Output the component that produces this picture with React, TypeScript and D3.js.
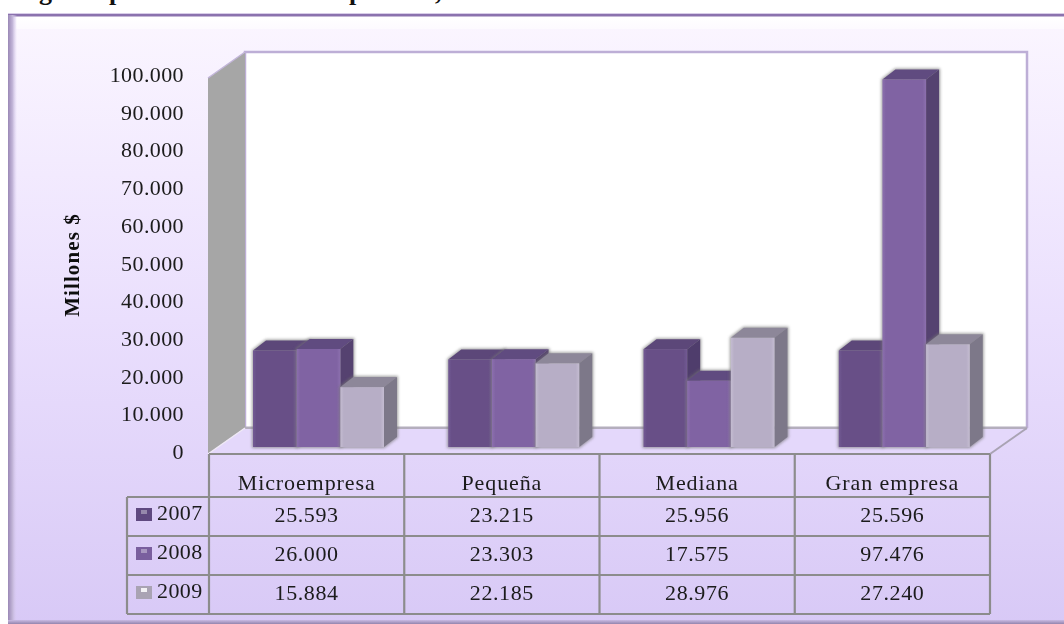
import React from "react";
import * as d3 from "d3";

const categories = ["Microempresa", "Pequeña", "Mediana", "Gran empresa"];
const seriesNames = ["2007", "2008", "2009"];
const values2007 = [25593, 23215, 25956, 25596];
const values2008 = [26000, 23303, 17575, 97476];
const values2009 = [15884, 22185, 28976, 27240];
const yAxisTitle = "Millones $";
const titleFragments = [
  { text: "g", x: 39 },
  { text: "p", x: 109 },
  { text: "p", x: 349 },
  { text: ",", x: 435 },
];

const allValues = [values2007, values2008, values2009];
const faces = [
  { dark: "#5f4a80", front: "#674f87", edge: "#735a94", side: "#503e6c", top: "#5b4679", swatch: "#5f4a80" },
  { dark: "#745a98", front: "#8063a3", edge: "#8c70ae", side: "#55426f", top: "#604b80", swatch: "#7a5f9e" },
  { dark: "#aea5bd", front: "#b7aec6", edge: "#c4bcd1", side: "#7d7889", top: "#8d8799", swatch: "#a9a3b3" },
];

const W = 1064;
const H = 624;
const tableLeft = 127;
const colLeft = 209;
const colRight = 990;
const rowLines = [497, 536, 575, 614];
const headerTop = 454;
const wall = { l: 245, r: 1027, t: 52, b: 428 };
const wallFront = { x: 208, dy: 26 };
const depth = { dx: 13, dy: -10 };
const baseY = 447;
const fontFamily = "'Liberation Serif', 'Times New Roman', serif";

const locale = d3.formatLocale({ decimal: ",", thousands: ".", grouping: [3], currency: ["", ""] });
const fmt = locale.format(",d");

export default function App() {
  const xCat = d3.scaleBand<string>().domain(categories).range([colLeft, colRight]).padding(0);
  const yAxis = d3.scaleLinear().domain([0, 100000]).range([452, 75]);
  const yBar = d3.scaleLinear().domain([0, 100000]).range([baseY, baseY - 377]);
  const xSeries = d3.scaleBand<string>().domain(seriesNames).range([44, 175]).padding(0);
  const bw = xSeries.bandwidth();
  const ticks = yAxis.ticks(10);
  const colEdges = [...categories.map((c) => xCat(c) as number), colRight];

  return (
    <svg
      width={W}
      height={H}
      viewBox={`0 0 ${W} ${H}`}
      style={{ position: "absolute", left: 0, top: 0, display: "block" }}
      fontFamily={fontFamily}
    >
      <defs>
        <linearGradient id="bg" x1="0" y1="0" x2="0" y2="1">
          <stop offset="0" stopColor="#fbf6ff" />
          <stop offset="0.5" stopColor="#eadffd" />
          <stop offset="1" stopColor="#d8c9f6" />
        </linearGradient>
        <linearGradient id="leftBevel" x1="0" y1="0" x2="1" y2="0">
          <stop offset="0" stopColor="#9a88b6" />
          <stop offset="0.5" stopColor="#c2b5d8" />
          <stop offset="1" stopColor="#d9ccf0" stopOpacity="0" />
        </linearGradient>
        <linearGradient id="topBevel" x1="0" y1="0" x2="0" y2="1">
          <stop offset="0" stopColor="#ffffff" />
          <stop offset="1" stopColor="#fdfaff" />
        </linearGradient>
        <linearGradient id="bottomBevel" x1="0" y1="0" x2="0" y2="1">
          <stop offset="0" stopColor="#c9bae3" />
          <stop offset="1" stopColor="#9384ad" />
        </linearGradient>
        <filter id="soft" x="-2%" y="-2%" width="104%" height="104%">
          <feGaussianBlur stdDeviation="0.5" />
        </filter>
        <filter id="halo" x="-30%" y="-30%" width="160%" height="160%">
          <feGaussianBlur stdDeviation="1.4" />
        </filter>
        {faces.map((f, i) => (
          <linearGradient key={i} id={`front${i}`} x1="0" y1="0" x2="1" y2="0">
            <stop offset="0" stopColor={f.edge} />
            <stop offset="0.08" stopColor={f.front} />
            <stop offset="0.92" stopColor={f.front} />
            <stop offset="1" stopColor={f.edge} />
          </linearGradient>
        ))}
      </defs>

      <rect width={W} height={H} fill="#ffffff" />

      {titleFragments.map((t) => (
        <text key={t.x} x={t.x} y={0} fontSize={26} fontWeight="bold" fill="#111">
          {t.text}
        </text>
      ))}

      <rect x={8} y={15} width={W - 8} height={H - 15} fill="url(#bg)" />
      <rect x={16} y={16} width={W - 16} height={13} fill="url(#topBevel)" />
      <rect x={8} y={14} width={W - 8} height={2.5} fill="#8b72ae" />
      <rect x={8} y={13} width={W - 8} height={1} fill="#d8cde8" />
      <rect x={8} y={15} width={9} height={H - 15} fill="url(#leftBevel)" />
      <rect x={8} y={620} width={W - 8} height={4} fill="url(#bottomBevel)" />

      <g filter="url(#soft)">
        <rect x={wall.l} y={wall.t} width={wall.r - wall.l} height={wall.b - wall.t} fill="#ffffff" />
        <polyline
          points={`${wall.l},${wall.b} ${wall.l},${wall.t} ${wall.r},${wall.t} ${wall.r},${wall.b}`}
          fill="none"
          stroke="#bdaed6"
          strokeWidth={2.5}
        />
        <line x1={wall.l} x2={wall.r} y1={wall.b} y2={wall.b} stroke="#b4aebd" strokeWidth={3} />

        <polygon
          points={`${wallFront.x},${wall.t + wallFront.dy} ${wall.l},${wall.t} ${wall.l},${wall.b} ${wallFront.x},${wall.b + wallFront.dy}`}
          fill="#a6a6a6"
        />
        <line x1={wallFront.x} y1={wall.t + wallFront.dy} x2={wall.l} y2={wall.t} stroke="#c3b6da" strokeWidth={1.5} />

        <polygon
          points={`${wallFront.x},${wall.b + wallFront.dy} ${wall.l},${wall.b + 1} ${wall.r},${wall.b + 1} ${colRight},${wall.b + wallFront.dy}`}
          fill="#e4d8fb"
        />
        <line x1={wallFront.x} y1={wall.b + wallFront.dy} x2={wall.l} y2={wall.b} stroke="#efe9f6" strokeWidth={1.5} />
        <line x1={colRight} y1={wall.b + wallFront.dy} x2={wall.r} y2={wall.b} stroke="#a9a3b3" strokeWidth={2} />

        {categories.map((cat, c) => (
          <g key={cat}>
            {seriesNames.map((s, i) => {
              const x0 = (xCat(cat) as number) + (xSeries(s) as number);
              const x1 = x0 + bw;
              const yT = yBar(allValues[i][c]);
              const f = faces[i];
              const top = `${x0},${yT} ${x0 + depth.dx},${yT + depth.dy} ${x1 + depth.dx},${yT + depth.dy} ${x1},${yT}`;
              const side = `${x1},${yT} ${x1 + depth.dx},${yT + depth.dy} ${x1 + depth.dx},${baseY + depth.dy} ${x1},${baseY}`;
              const outline = `${x0},${baseY} ${x0},${yT} ${x0 + depth.dx},${yT + depth.dy} ${x1 + depth.dx},${yT + depth.dy} ${x1 + depth.dx},${baseY + depth.dy} ${x1},${baseY}`;
              return (
                <g key={s}>
                  <polygon points={outline} fill="#777" opacity={0.7} stroke="#777" strokeWidth={2} filter="url(#halo)" />
                  <polygon points={top} fill={f.top} />
                  <polygon points={side} fill={f.side} />
                  <rect x={x0} y={yT} width={bw} height={baseY - yT} fill={`url(#front${i})`} />
                </g>
              );
            })}
          </g>
        ))}

        <g stroke="#8c8c8c" strokeWidth={2.2} fill="none">
          <line x1={colLeft} x2={colRight} y1={headerTop} y2={headerTop} />
          {rowLines.map((y) => (
            <line key={y} x1={tableLeft} x2={colRight} y1={y} y2={y} />
          ))}
          {colEdges.map((x) => (
            <line key={x} x1={x} x2={x} y1={headerTop} y2={rowLines[rowLines.length - 1]} />
          ))}
          <line x1={tableLeft} x2={tableLeft} y1={rowLines[0]} y2={rowLines[rowLines.length - 1]} />
        </g>

        {seriesNames.map((s, i) => {
          const y = rowLines[i] + 11;
          return (
            <g key={s}>
              <rect x={136} y={y} width={16} height={13} fill={faces[i].swatch} />
              <rect x={141} y={y + 2} width={6} height={4} fill="#ffffff" opacity={i === 2 ? 0.85 : 0.35} />
            </g>
          );
        })}

        <g fontSize={22} fill="#1a1a1a">
          {ticks.map((t) => (
            <text key={t} x={184} y={yAxis(t) + 7} textAnchor="end" letterSpacing={0.4}>
              {fmt(t)}
            </text>
          ))}
          {categories.map((c) => (
            <text
              key={c}
              x={(xCat(c) as number) + xCat.bandwidth() / 2}
              y={490}
              textAnchor="middle"
              letterSpacing={0.9}
            >
              {c}
            </text>
          ))}
          {seriesNames.map((s, i) => (
            <text key={s} x={157} y={rowLines[i] + 23} letterSpacing={0.4}>
              {s}
            </text>
          ))}
          {allValues.map((vals, i) =>
            vals.map((v, c) => (
              <text
                key={`${i}-${c}`}
                x={(xCat(categories[c]) as number) + xCat.bandwidth() / 2}
                y={rowLines[i] + 25}
                textAnchor="middle"
                letterSpacing={0.6}
              >
                {fmt(v)}
              </text>
            ))
          )}
        </g>
        <text
          transform="translate(79,265) rotate(-90)"
          textAnchor="middle"
          fontSize={21}
          fontWeight="bold"
          letterSpacing={1.1}
          fill="#111"
        >
          {yAxisTitle}
        </text>
      </g>
    </svg>
  );
}
